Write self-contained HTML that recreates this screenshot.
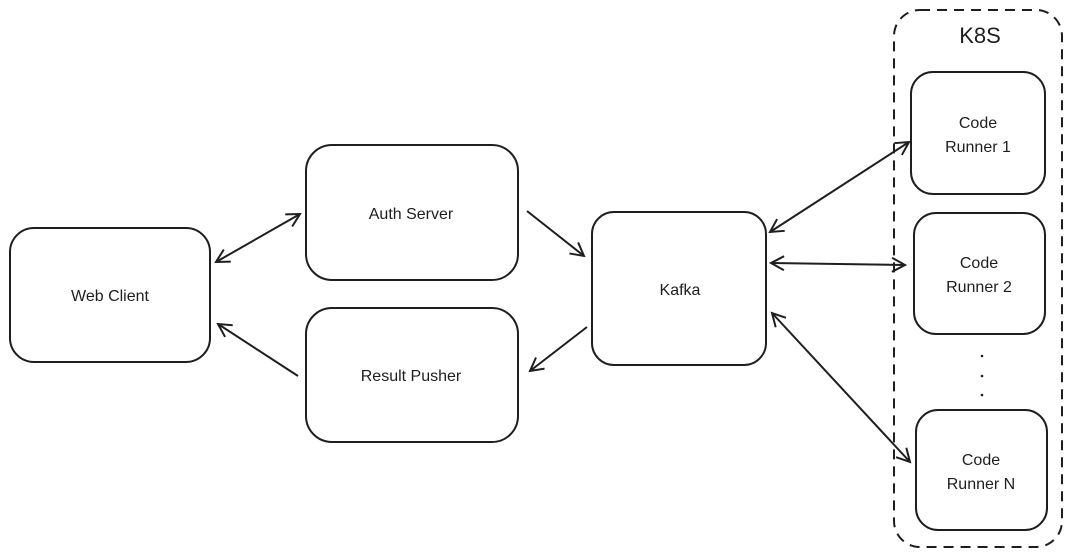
<!DOCTYPE html>
<html><head><meta charset="utf-8"><style>
html,body{margin:0;padding:0;background:#fff;width:1072px;height:558px;overflow:hidden}
svg{display:block}
text{font-family:"Liberation Sans",sans-serif;font-size:16px;fill:#1e1e1e}
</style></head><body>
<svg width="1072" height="558" viewBox="0 0 1072 558" xmlns="http://www.w3.org/2000/svg">
<defs>
<marker id="a" markerWidth="16" markerHeight="16" refX="14" refY="8" orient="auto-start-reverse" markerUnits="userSpaceOnUse">
<path d="M1,1 L14,8 L1,15" fill="none" stroke="#1e1e1e" stroke-width="2"/>
</marker>
</defs>
<g fill="none" stroke="#1e1e1e" stroke-width="2">
<rect x="10" y="228" width="200" height="134" rx="24"/>
<rect x="306" y="145" width="212" height="135" rx="26"/>
<rect x="306" y="308" width="212" height="134" rx="26"/>
<rect x="592" y="212" width="174" height="153" rx="22"/>
<rect x="894" y="10" width="168" height="537" rx="26" stroke-dasharray="10 7"/>
<rect x="911" y="72" width="134" height="122" rx="22"/>
<rect x="914" y="213" width="131" height="121" rx="22"/>
<rect x="916" y="410" width="131" height="120" rx="22"/>
<line x1="216" y1="262" x2="300" y2="214" marker-start="url(#a)" marker-end="url(#a)"/>
<line x1="527" y1="211" x2="584" y2="256" marker-end="url(#a)"/>
<line x1="587" y1="327" x2="530" y2="371" marker-end="url(#a)"/>
<line x1="298" y1="376" x2="218" y2="324" marker-end="url(#a)"/>
<line x1="770" y1="232" x2="909" y2="142" marker-start="url(#a)" marker-end="url(#a)"/>
<line x1="771" y1="263" x2="905" y2="265" marker-start="url(#a)" marker-end="url(#a)"/>
<line x1="772" y1="313" x2="910" y2="462" marker-start="url(#a)" marker-end="url(#a)"/>
</g>
<g fill="#1e1e1e"><circle cx="982" cy="356" r="1.3"/><circle cx="982" cy="376" r="1.3"/><circle cx="982" cy="395" r="1.3"/></g>
<g text-anchor="middle">
<text x="110" y="301">Web Client</text>
<text x="411" y="219">Auth Server</text>
<text x="411" y="381">Result Pusher</text>
<text x="680" y="295">Kafka</text>
<text x="980" y="43" style="font-size:22px">K8S</text>
<text x="978" y="128">Code</text><text x="978" y="152">Runner 1</text>
<text x="979" y="268">Code</text><text x="979" y="292">Runner 2</text>
<text x="981" y="465">Code</text><text x="981" y="489">Runner N</text>
</g>
</svg>
</body></html>
